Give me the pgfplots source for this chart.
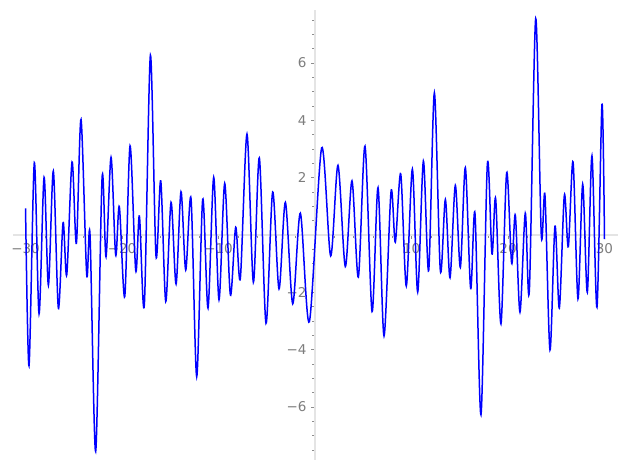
\documentclass[border=0pt]{standalone}
\usepackage{fontspec}
\setmainfont{DejaVu Sans}
\usepackage{pgfplots}
\pgfplotsset{compat=1.18}
\usetikzlibrary{calc}
\definecolor{axgray}{RGB}{228,228,228}
\definecolor{tickgray}{RGB}{140,140,140}
\definecolor{labgray}{RGB}{125,125,125}

\begin{document}
\begin{tikzpicture}
\begin{axis}[
    scale only axis,
    width=605pt, height=450pt,
    axis lines=middle,
    axis line style={-, draw=axgray, line width=1.4pt},
    xmin=-31.3, xmax=31.4,
    ymin=-7.85, ymax=7.85,
    xtick={-30,-20,-10,0,10,20,30},
    xticklabels={−30,−20,−10,,10,20,30},
    ytick={-6,-4,-2,0,2,4,6},
    yticklabels={−6,−4,−2,,2,4,6},
    minor xtick={-30,-28,...,30},
    minor ytick={-7.5,-7,...,7.5},
    tick align=outside,
    major tick length=4pt,
    minor tick length=2.6pt,
    tick style={draw=tickgray, line width=0.6pt},
    ticklabel style={font=\fontsize{13.5}{16}\selectfont, text=labgray},
    xticklabel style={yshift=-1pt},
    yticklabel style={xshift=-1pt},
    clip=false,
]
\addplot[blue, line width=1.5pt, smooth] coordinates {
(-30.00,0.93) (-29.64,-4.56) (-29.09,2.52) (-28.60,-2.75) (-28.08,2.01)
(-27.63,-1.75) (-27.12,2.23) (-26.60,-2.55) (-26.11,0.43) (-25.73,-1.39)
(-25.18,2.55) (-24.73,-0.29) (-24.25,4.03) (-23.66,-1.39) (-23.32,0.02)
(-22.73,-7.55) (-22.07,1.98) (-21.66,-0.76) (-21.14,2.71) (-20.66,-0.70)
(-20.28,0.99) (-19.72,-2.15) (-19.17,3.11) (-18.58,-1.24) (-18.20,0.66)
(-17.69,-2.44) (-17.06,6.27) (-16.48,-0.73) (-15.99,1.89) (-15.47,-2.32)
(-14.92,1.14) (-14.40,-1.71) (-13.89,1.51) (-13.40,-1.22) (-12.85,1.27)
(-12.26,-4.94) (-11.64,1.25) (-11.09,-2.55) (-10.50,2.01) (-9.95,-2.26)
(-9.36,1.80) (-8.77,-2.09) (-8.22,0.27) (-7.74,-1.51) (-7.05,3.52)
(-6.39,-1.65) (-5.77,2.69) (-5.08,-3.08) (-4.39,1.50) (-3.73,-1.88)
(-3.07,1.14) (-2.31,-2.40) (-1.52,0.76) (-0.59,-3.03) (0.69,3.04)
(1.62,-0.73) (2.38,2.43) (3.14,-1.10) (3.83,1.89) (4.49,-1.47)
(5.18,3.10) (5.91,-2.67) (6.53,1.65) (7.15,-3.52) (7.88,1.52)
(8.32,-0.25) (8.88,2.13) (9.46,-1.78) (10.09,2.30) (10.64,-1.99)
(11.23,2.58) (11.78,-1.24) (12.37,4.96) (12.99,-1.25) (13.51,1.24)
(13.99,-1.49) (14.54,1.73) (15.06,-1.13) (15.58,2.35) (16.13,-1.87)
(16.58,0.74) (17.20,-6.27) (17.86,2.47) (18.34,-0.66) (18.72,1.27)
(19.27,-3.10) (19.86,2.17) (20.38,-0.99) (20.76,0.69) (21.24,-2.69)
(21.79,0.76) (22.21,-1.95) (22.87,7.55) (23.45,0.00) (23.83,1.39)
(24.35,-4.01) (24.87,0.31) (25.32,-2.55) (25.84,1.39) (26.25,-0.41)
(26.74,2.55) (27.25,-2.23) (27.74,1.77) (28.22,-2.00) (28.70,2.76)
(29.22,-2.52) (29.74,4.56) (30.00,-0.14)
};
\coordinate (sw) at (rel axis cs:0,0);
\coordinate (ne) at (rel axis cs:1,1);
\end{axis}
\pgfresetboundingbox
\path[use as bounding box] ($(sw)+(-13pt,-10pt)$) rectangle ($(ne)+(9pt,10pt)$);
\end{tikzpicture}
\end{document}
